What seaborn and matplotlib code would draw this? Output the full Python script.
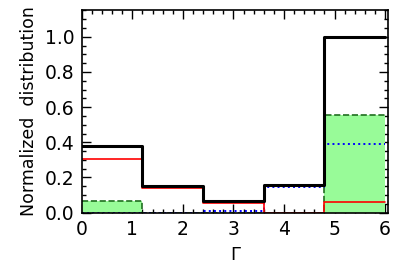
import numpy as np
import pandas as pd
import seaborn as sns
import matplotlib.pyplot as plt
from matplotlib.ticker import MultipleLocator, FormatStrFormatter

# bin edges and centres of the Gamma histogram
bin_edges = [0.0, 1.2, 2.4, 3.6, 4.8, 6.0]
bin_centres = [0.6, 1.8, 3.0, 4.2, 5.4]

# normalized heights
total = [0.378, 0.150, 0.065, 0.160, 1.0]
red_sample = [0.308, 0.143, 0.057, 0.0, 0.058]
green_sample = [0.066, 0.0, 0.0, 0.0, 0.555]
blue_sample = [0.0, 0.0, 0.008, 0.147, 0.388]

sns.set_style('ticks')
plt.rcParams['font.family'] = ['DejaVu Sans']
plt.rcParams['xtick.direction'] = 'in'
plt.rcParams['ytick.direction'] = 'in'
plt.rcParams['text.color'] = 'black'
plt.rcParams['axes.labelcolor'] = 'black'
plt.rcParams['xtick.labelcolor'] = 'black'
plt.rcParams['ytick.labelcolor'] = 'black'

df = pd.DataFrame({'Gamma': bin_centres, 'total': total, 'red': red_sample,
                   'green': green_sample, 'blue': blue_sample})

fig = plt.figure(figsize=(4.09, 2.73), dpi=100)
ax = fig.add_axes([0.200, 0.221, 0.749, 0.742])

# filled green histogram with a dashed dark edge
sns.histplot(data=df, x='Gamma', weights='green', bins=bin_edges, element='step',
             fill=True, color='#98fb98', alpha=1.0, linewidth=0, ax=ax)
sns.histplot(data=df, x='Gamma', weights='green', bins=bin_edges, element='step',
             fill=False, color='#1f6e1f', linestyle='--', linewidth=1.2, ax=ax)
sns.histplot(data=df, x='Gamma', weights='blue', bins=bin_edges, element='step',
             fill=False, color='blue', linestyle=':', linewidth=1.4, ax=ax)
sns.histplot(data=df, x='Gamma', weights='red', bins=bin_edges, element='step',
             fill=False, color='red', linewidth=1.2, ax=ax)
sns.histplot(data=df, x='Gamma', weights='total', bins=bin_edges, element='step',
             fill=False, color='black', linewidth=2.2, ax=ax)

ax.set_xlim(0, 6.06)
ax.set_ylim(0, 1.152)
ax.xaxis.set_major_locator(MultipleLocator(1))
ax.xaxis.set_minor_locator(MultipleLocator(0.2))
ax.yaxis.set_major_locator(MultipleLocator(0.2))
ax.yaxis.set_minor_locator(MultipleLocator(0.05))
ax.yaxis.set_major_formatter(FormatStrFormatter('%.1f'))
ax.tick_params(which='both', top=True, right=True, color='black', width=1.0)
ax.tick_params(which='major', length=6.5, labelsize=13.5, pad=5)
ax.tick_params(which='minor', length=3)
for s in ax.spines.values():
    s.set_color('black')
    s.set_linewidth(1.2)

ax.set_xlabel('Γ', fontsize=13, labelpad=5)
ax.set_ylabel('Normalized  distribution', fontsize=12.5, labelpad=5)

plt.savefig('out.png', dpi=100)
